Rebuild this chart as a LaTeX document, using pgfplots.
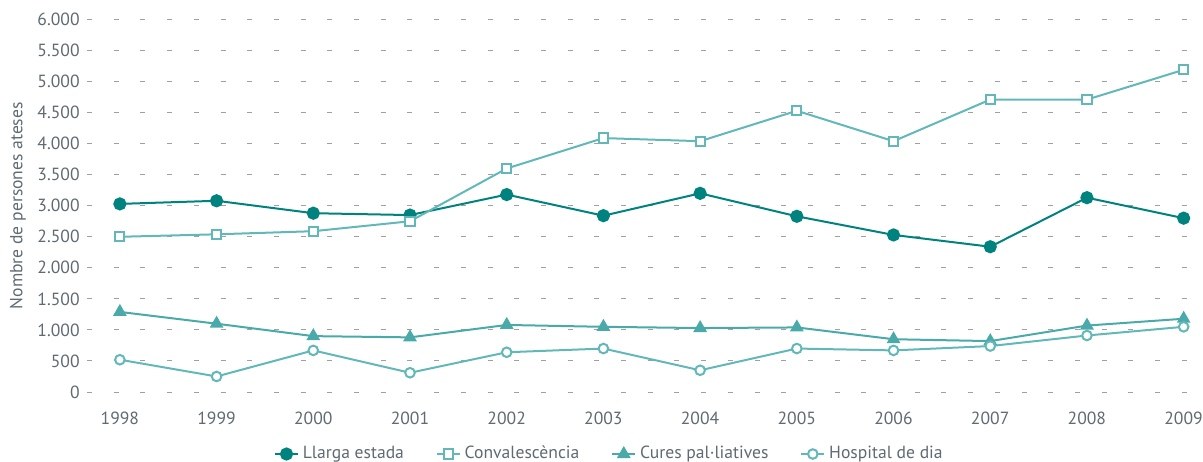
\documentclass[border=0pt]{standalone}
\usepackage{fontspec}
\setmainfont{PT Sans}
\usepackage{pgfplots}
\pgfplotsset{compat=1.18}
\definecolor{darkteal}{HTML}{00837F}
\definecolor{lightteal}{HTML}{62B8B8}
\definecolor{midteal}{HTML}{4AAAAA}
\definecolor{txtgrey}{HTML}{5F6A72}
\definecolor{gridgrey}{HTML}{A0A0A0}
\begin{document}
\begin{tikzpicture}
\useasboundingbox (-43.5pt,-34.5pt) rectangle (558pt,196pt);
\begin{axis}[
  at={(0,0)}, anchor=south west,
  scale only axis, width=558pt, height=186.25pt,
  xmin=1997.66, xmax=2009.2, ymin=0, ymax=6000,
  axis line style={draw=none},
  xtick={1998,...,2009},
  ytick={0,500,...,6000},
  ymajorgrids,
  major grid style={gridgrey, line width=0.5pt, dash pattern=on 2.5pt off 10.85pt},
  major tick length=0pt,
  tick style={draw=none},
  font=\fontsize{8.8}{10}\selectfont,
  tick label style={text=txtgrey},
  /pgf/number format/.cd, 1000 sep={.}, assume math mode=true,
  /pgfplots/.cd,
  xticklabel={\pgfmathprintnumber[1000 sep={}]{\tick}},
  xticklabel style={anchor=center, yshift=-13pt},
  yticklabel style={anchor=east, inner sep=0pt, xshift=-3.5pt},
  ylabel={Nombre de persones ateses},
  ylabel style={at={(axis description cs:-0.062,0.5)}, anchor=center, text=txtgrey},
  clip=false,
  legend columns=4,
  legend style={at={(axis description cs:0.469,0)}, anchor=center, yshift=-31pt,
    draw=none, fill=none, text=txtgrey, font=\fontsize{8.8}{10}\selectfont,
    /tikz/every even column/.append style={column sep=14pt}},
  legend image code/.code={\draw[mark repeat=2,mark phase=2] plot coordinates {(0cm,0cm) (0.2cm,0cm) (0.4cm,0cm)};},
  every axis plot/.append style={line width=1pt},
]
\addplot[darkteal, mark=*, mark size=2.8pt, mark options={fill=darkteal, draw=darkteal}] coordinates {
(1998,3030) (1999,3080) (2000,2880) (2001,2850) (2002,3180) (2003,2840) (2004,3200) (2005,2830) (2006,2530) (2007,2340) (2008,3130) (2009,2800)};
\addlegendentry{Llarga estada}
\addplot[lightteal, mark=square*, mark size=2.3pt, mark options={fill=white, draw=lightteal}] coordinates {
(1998,2500) (1999,2540) (2000,2590) (2001,2750) (2002,3600) (2003,4090) (2004,4040) (2005,4530) (2006,4040) (2007,4710) (2008,4710) (2009,5190)};
\addlegendentry{Convalescència}
\addplot[midteal, mark=triangle*, mark size=3pt, mark options={fill=midteal, draw=midteal}] coordinates {
(1998,1290) (1999,1100) (2000,900) (2001,880) (2002,1080) (2003,1050) (2004,1030) (2005,1040) (2006,850) (2007,820) (2008,1070) (2009,1180)};
\addlegendentry{Cures pal·liatives}
\addplot[lightteal, mark=*, mark size=2.4pt, mark options={fill=white, draw=lightteal}] coordinates {
(1998,520) (1999,250) (2000,670) (2001,310) (2002,640) (2003,700) (2004,350) (2005,700) (2006,670) (2007,740) (2008,910) (2009,1050)};
\addlegendentry{Hospital de dia}
\end{axis}
\end{tikzpicture}
\end{document}
